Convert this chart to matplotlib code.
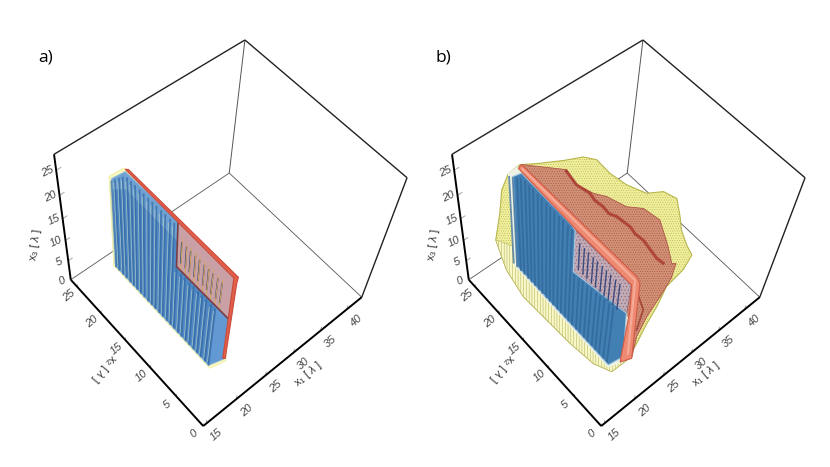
import numpy as np
import matplotlib
matplotlib.use("Agg")
import matplotlib.pyplot as plt

# axis limits of the box, in lambda
x1_min, x1_max = 14.5, 43
x2_min, x2_max = 0, 26.5
x3_min, x3_max = 0, 28

x1_ticks = [15, 20, 25, 30, 35, 40]
x2_ticks = [0, 5, 10, 15, 20, 25]
x3_ticks = [0, 5, 10, 15, 20, 25]

# pillars positions along x2
pillars_x2 = [5.3, 6.0, 6.8, 7.5, 8.2, 9.0, 9.7, 10.5, 11.2, 12.0, 12.7, 13.4, 14.2,
              14.9, 15.7, 16.4, 17.1, 17.9, 18.6, 19.4, 20.1, 20.8, 21.6, 22.3, 23.1, 23.8]
# height of the pillars along x2, panel a and b
pillar_top_x2 = [3.0, 12.0, 12.1, 21.1, 23.8]
pillar_top_a = [17.0, 16.9, 26.0, 25.6, 21.7]
pillar_top_b = [18.0, 15.6, 24.6, 25.0, 22.6]

# outlines, each point is (x1, x2, x3)
blue_a = [(20,23.7,21.7),(20,21.1,25.9),(20,12.1,26.5),(20,12.0,16.9),(20,3.0,17.1),(20,2.8,7.3),(20,5.3,1.1),(20,23.8,1.2)]
blue_top_a = [(20,23.7,21.7),(20,21.1,25.9),(20,12.1,26.5),(20,12.1,22.5),(20,21,22.5),(20,23.7,19.5)]
blue_end_a = [(20,5.3,16.9),(20,3.0,17.1),(20,2.8,7.3),(20,5.3,1.1)]
window_a = [(21,13.2,24.2),(21,3.6,24.6),(21,3.9,14.6),(21,13.1,14.4)]
red_a = [(21,22.4,24.1),(21,21.8,24.7),(21,3.5,25.0),(21,3.6,23.5),(21,3.6,4.6),(21,4.0,4.0),(21,4.1,24.0)]
halo_a = [(20,24.2,21.6),(20,21.3,26.4),(20,13,26.8),(20,12,17.5),(20,3.5,17.5),(20,2.6,7.0),(20,5.0,0.7),(20,24.3,0.8)]

blue_b = [(20,23.0,22.9),(20,21.4,25.3),(20,12.8,24.9),(20,12.2,24.6),(20,12.2,15.5),(20,3.3,18.3),(20,2.8,7.8),(20,5.0,1.7),(20,23.1,2.2)]
blue_halo_b = [(20,24.0,22.5),(20,22,26),(20,12.8,25.8),(20,12,15),(20,2.6,18),(20,2.3,7.5),(20,5,0.9),(20,23.8,1.5)]
frame_b = [(21,23.3,23.3),(21,22.7,24.7),(21,3.5,25.2),(21,2.9,24.5),(21,2.3,6.8),(21,4.0,2.9),(21,4.0,4.0),(21,3.7,16.9),(21,4.0,22.6),(21,13.0,22.6)]
frame_mid_b = [(21,22.5,24.0),(21,3.6,24.2),(21,3.0,7.0)]
window_b = [(21,13.3,22.3),(21,4.0,22.6),(21,4.1,15.9),(21,13.3,13.0)]
yellow_b = [(22,24.3,22.1),(24,23.1,22.0),(26,21.2,22.9),(28,20.0,23.2),(29,18.8,23.1),(30,17.4,21.0),(32,16.4,18.0),(33,13.9,18.1),
            (34,12.2,19.5),(35,10.8,18.7),(35,9.8,15.9),(35,9.2,13.6),(36,8.6,9.7),(36,7.5,8.7),(35,7.6,5.9),(33,8.2,2.8),(31,7.6,0.4),
            (28,6.4,1.1),(25,5.1,1.2),(22,3.8,2.4),(20,4.3,0.9),(19,6.6,0.8),(18,10.0,2.5),(18,14.6,2.0),(18,19.3,1.5),(18,22.7,3.9),
            (18,23.6,6.2),(18,24.6,9.0),(18,23.3,16.7),(18,22.6,22.4),(19,22.5,24.9)]
yellow_low_b = [(22,3.8,2.4),(20,4.3,0.9),(19,6.6,0.8),(18,10.0,2.5),(18,14.6,2.0),(18,19.3,1.5),(18,22.7,3.9),(18,23.6,6.2),(18,24.6,9.0),
                (20,23.1,7.0),(20,23.1,2.2),(20,5.0,1.7)]
red_b = [(21,22.7,24.7),(24,18.4,25.8),(25,17.7,22.7),(27,16.9,20.1),(28,15.7,19.9),(29,13.3,19.6),(30,11.5,20.4),(32,10.4,17.3),(33,9.2,11.7),
         (33,8.1,8.9),(34,8.2,7.8),(33,7.7,5.8),(31,7.4,3.5),(28,6.6,2.7),(25,5.3,2.8),(22,3.1,4.5),(21,3.8,3.8)]
ridge_b = [(24,18.4,25.5),(25,17.7,22.7),(26,16.5,21.5),(26.5,16.1,20.0),(27,15.1,19.3),(27.5,14.6,18.0),(28,13.7,17.9),(29,12.3,16.4),(29.5,11.8,14.9),(30,10.8,14.2),(31,9.1,11.1),(32,8.7,9.3)]
ridge2_b = [(24,5.7,15.7),(26,5.8,8.2),(25,5.5,4.4)]

panel_shift = 398  # second box sits this many pixels to the right


def make_projection():
    # perspective of the box, fitted on its corners
    corners = [(x1_min,x2_min,x3_min,203,426),(x1_min,x2_max,x3_min,71,280),(x1_max,x2_min,x3_min,362,297),
               (x1_max,x2_max,x3_min,229,173),(x1_min,x2_max,x3_max,54,154),(x1_max,x2_max,x3_max,245,40),
               (x1_max,x2_min,x3_max,407,178)]
    A = []
    b = []
    for X, Y, Z, u, v in corners:
        A.append([X,Y,Z,1,0,0,0,0,-u*X,-u*Y,-u*Z])
        b.append(u)
        A.append([0,0,0,0,X,Y,Z,1,-v*X,-v*Y,-v*Z])
        b.append(v)
    h = np.linalg.lstsq(np.array(A, float), np.array(b, float), rcond=None)[0]
    return np.append(h, 1).reshape(3, 4)


P = make_projection()


def proj(pts, shift=0):
    pts = np.array(pts, float)
    q = np.column_stack([pts, np.ones(len(pts))]) @ P.T
    return q[:, 0] / q[:, 2] + shift, q[:, 1] / q[:, 2]


plt.rcParams['font.family'] = ['Liberation Sans', 'DejaVu Sans']
plt.rcParams['mathtext.fontset'] = 'custom'
plt.rcParams['mathtext.rm'] = 'Liberation Sans'
plt.rcParams['mathtext.it'] = 'Liberation Sans:italic'
plt.rcParams['hatch.linewidth'] = 0.35

fig = plt.figure(figsize=(8.3, 4.67), dpi=100)
ax = fig.add_axes([0, 0, 1, 1])
ax.set_xlim(0, 830)
ax.set_ylim(467, 0)
ax.axis('off')


def poly(pts, shift, zorder, **kw):
    x, y = proj(pts, shift)
    ax.fill(x, y, zorder=zorder, **kw)


def seg(p0, p1, shift, color, lw, zorder=1, alpha=1):
    x, y = proj([p0, p1], shift)
    ax.plot(x, y, color=color, lw=lw, zorder=zorder, alpha=alpha, solid_capstyle='butt')


def draw_box(shift):
    # back edges
    seg((x1_max,x2_max,0), (x1_min,x2_max,0), shift, '#555555', 0.6)
    seg((x1_max,x2_max,0), (x1_max,0,0), shift, '#555555', 0.6)
    seg((x1_max,x2_max,0), (x1_max,x2_max,x3_max), shift, '#555555', 0.7)
    # top edges
    seg((x1_min,x2_max,x3_max), (x1_max,x2_max,x3_max), shift, '#222222', 1.0)
    seg((x1_max,x2_max,x3_max), (x1_max,0,x3_max), shift, '#222222', 1.0)
    seg((x1_max,0,0), (x1_max,0,x3_max), shift, '#222222', 1.0)
    # front edges with the axes
    seg((x1_min,0,0), (x1_min,x2_max,0), shift, 'black', 1.4, 8)
    seg((x1_min,0,0), (x1_max,0,0), shift, 'black', 1.4, 8)
    seg((x1_min,x2_max,0), (x1_min,x2_max,x3_max), shift, 'black', 1.4, 8)

    tick = dict(color='#444444', fontsize=8, style='italic', ha='center', va='center', zorder=9)
    for t in x1_ticks:
        seg((t,0,0), (t,0,1.2), shift, '#999999', 0.6, 7)
        x, y = proj([(t,0,0)], shift)
        ax.text(x[0]+10, y[0]+11, str(t), rotation=42, **tick)
    for t in x2_ticks:
        seg((x1_min,t,0), (x1_min,t,0.8), shift, '#999999', 0.6, 7)
        x, y = proj([(x1_min,t,0)], shift)
        ax.text(x[0]-9, y[0]+8, str(t), rotation=40, **tick)
    for t in x3_ticks:
        seg((x1_min,x2_max,t), (x1_min+0.7,x2_max,t), shift, '#999999', 0.6, 7)
        x, y = proj([(x1_min,x2_max,t)], shift)
        ax.text(x[0]-9, y[0]+1, str(t), rotation=25, **tick)

    label = dict(color='#333333', fontsize=8, ha='center', va='center', zorder=9)
    x, y = proj([(30,0,0)], shift)
    ax.text(x[0]+15, y[0]+21, r'$\mathrm{x_1}$ [ $\lambda$ ]', rotation=40, **label)
    x, y = proj([(x1_min,12.5,0)], shift)
    ax.text(x[0]-34, y[0]+14, r'$\mathrm{x_2}$ [ $\lambda$ ]', rotation=230, **label)
    x, y = proj([(x1_min,x2_max,9)], shift)
    ax.text(x[0]-31, y[0], r'$\mathrm{x_3}$ [ $\lambda$ ]', rotation=82, **label)


draw_box(0)
draw_box(panel_shift)

# panel a
poly(halo_a, 0, 2, facecolor='#f8f7bd', edgecolor='#efed9c', lw=0.5)
poly(window_a, 0, 3, facecolor='#c8a0a6', edgecolor='none')
poly(blue_a, 0, 4, facecolor='#4f88c4', edgecolor='#8dbbe0', lw=0.6)
poly(blue_top_a, 0, 4.1, facecolor='#8fbde2', edgecolor='none', alpha=0.5)
poly(blue_end_a, 0, 4.1, facecolor='#6fa6dc', edgecolor='none', alpha=0.6)
for p in pillars_x2:
    top = np.interp(p, pillar_top_x2, pillar_top_a)
    seg((20,p,1.0), (20,p,top-0.5), 0, '#2f64a0', 1.3, 5, 0.65)
    seg((20,p+0.25,1.6), (20,p+0.25,top-1.5), 0, '#b4cfc4', 0.55, 5.5, 0.8)
    if p < 12.5:
        seg((20.6,p,17), (20.6,p,21.8), 0, '#39507a', 1.1, 5)
        seg((20.9,p+0.25,15), (20.9,p+0.25,21.8), 0, '#d9a45f', 0.7, 5.5)
x, y = proj(window_a + window_a[:1])
ax.plot(x[2:4], y[2:4], color='#7a3d42', lw=1.2, zorder=6)
ax.plot(x[3:5], y[3:5], color='#7a3d42', lw=1.2, zorder=6)
poly(red_a, 0, 6, facecolor='#e2604a', edgecolor='#c9493a', lw=0.8)

# panel b
poly(yellow_b, panel_shift, 2, facecolor='#f0ef9e', edgecolor='#b8b64c', lw=0.8, hatch='.......')
poly(yellow_low_b, panel_shift, 2.5, facecolor='#f8f7c8', edgecolor='#aeac50', lw=0.3, hatch='||||||')
poly(red_b, panel_shift, 3, facecolor='#cc8272', edgecolor='#a8483c', lw=0.6, alpha=0.85, hatch='.......')
x, y = proj(ridge_b, panel_shift)
ax.plot(x, y, color='#a9362e', lw=2.2, alpha=0.8, zorder=4)
x, y = proj(ridge2_b, panel_shift)
ax.plot(x, y, color='#9c3a30', lw=1.3, alpha=0.8, zorder=4)
poly(blue_halo_b, panel_shift, 4.5, facecolor='#eef2e4', edgecolor='none')
poly(window_b, panel_shift, 4.6, facecolor='#bfaab6', edgecolor='#8e5f72', lw=0.5, hatch='.....')
poly(blue_b, panel_shift, 5, facecolor='#427fb3', edgecolor='#a9c9de', lw=0.8)
for p in pillars_x2:
    top = np.interp(p, pillar_top_x2, pillar_top_b)
    seg((20,p,2), (20,p,top-0.5), panel_shift, '#2f6496', 1.3, 6, 0.7)
    if p < 12.5:
        seg((20.6,p,15.5), (20.6,p,21.5), panel_shift, '#3a4a7c', 1.0, 6)
poly(frame_b, panel_shift, 7, facecolor='#ee8a72', edgecolor='#cf5a46', lw=0.8)
x, y = proj(frame_mid_b, panel_shift)
ax.plot(x, y, color='#f6b3a0', lw=1.6, alpha=0.8, zorder=7.5)

ax.text(38, 57, 'a)', fontsize=12.5, family='Open Sans', va='center', zorder=10)
ax.text(435, 57, 'b)', fontsize=12.5, family='Open Sans', va='center', zorder=10)

fig.savefig('out.png', dpi=100)
